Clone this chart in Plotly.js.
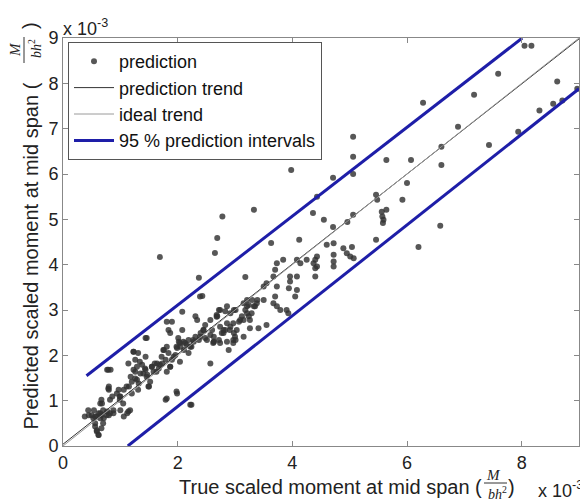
<!DOCTYPE html>
<html><head><meta charset="utf-8">
<script src="https://cdn.plot.ly/plotly-3.0.1.min.js"></script>
<style>html,body{margin:0;padding:0;background:#fff}#chart{width:580px;height:502px}</style>
</head><body><div id="chart"></div>
<script>
// values in units of 1e-3
const predX = [8.05,8.17,7.59,7.17,6.28,8.62,8.31,8.55,8.71,8.97,6.89,7.94,6.60,7.43,6.60,
5.06,5.06,5.64,6.07,4.71,5.06,6.00,5.46,5.48,5.92,4.36,4.55,4.71,4.96,5.06,5.64,5.57,5.58,6.58,6.20,
3.98,3.33,2.78,2.69,2.65,1.69,3.18,2.37,2.43,2.08,3.63,4.12,4.43,
5.04,5.01,4.72,4.72,4.40,4.43,5.56,5.59,5.46,4.60,4.72,4.89,4.95,5.07,4.72,4.43,4.37,4.40,4.40,4.25,4.14,4.08,3.84,3.73,3.70,3.67,3.73,3.55,3.50,3.96,4.08,3.96,4.08,3.94,
2.39,3.70,3.67,3.50,3.35,3.21,3.15,2.98,2.86,2.74,2.68,2.57,2.48,2.45,2.63,2.80,2.97,3.09,3.21,3.26,3.26,3.41,3.55,3.73,3.79,3.90,3.93,4.05,2.97,2.86,2.74,2.63,3.00,3.15,2.51,3.03,
0.38,0.44,0.50,0.53,0.59,0.62,0.65,0.67,0.70,0.65,0.67,0.56,0.59,0.62,0.67,0.70,0.76,0.82,0.88,0.82,0.79,0.97,0.99,1.05,1.14,1.17,1.14,0.79,1.23,1.31,1.34,1.26,1.29,1.31,1.20,1.11,0.99,
1.40,1.43,1.46,1.49,1.46,1.81,1.87,1.55,1.60,1.63,1.69,1.72,1.75,1.81,1.81,1.87,1.93,1.98,2.04,2.01,2.10,2.16,2.19,2.24,2.27,2.04,1.98,1.81,2.24,2.39,2.57,2.62,2.68,2.74,2.80,2.91,2.97,3.15,3.21,3.29,3.38,
0.45,0.54,0.56,0.65,0.71,0.77,0.80,0.88,0.56,0.59,0.62,0.68,1.00,1.06,1.12,0.80,0.77,0.86,0.94,1.00,1.06,1.15,1.18,1.20,1.26,1.32,1.23,1.29,1.35,1.38,1.44,1.47,1.52,1.50,1.55,1.58,1.64,1.67,1.73,1.79,1.76,1.84,1.87,1.90,1.96,1.99,2.05,2.02,2.11,2.13,2.19,2.22,2.28,2.31,2.37,2.40,2.45,2.48,2.57,2.60,2.63,2.72,2.77,2.83,2.86,2.92,2.98,3.01,2.89,3.07,3.12,3.18,3.24,3.33,3.39,3.30,3.24,3.01,2.92,2.83,2.72,2.69,2.31,2.34,1.84,1.90,2.08,1.44,1.23,1.26,1.44,1.79,1.99,2.22,0.80,0.83];
const predY = [8.83,8.83,8.21,7.75,7.57,8.04,7.40,7.55,7.62,7.88,7.04,6.93,6.60,6.64,6.20,
6.82,6.38,6.31,6.31,5.92,6.00,5.80,5.54,5.43,5.43,5.14,4.99,4.83,4.94,5.10,5.21,5.06,4.92,4.86,4.39,
6.09,5.21,5.06,4.59,4.26,4.17,3.73,3.71,3.31,2.96,4.48,4.55,5.50,
4.39,4.18,4.22,4.07,4.11,3.96,5.17,4.99,4.55,4.44,4.47,4.36,4.25,4.14,3.96,4.18,4.03,3.92,3.74,4.11,4.03,4.11,4.11,4.03,3.89,3.74,3.52,3.59,3.52,3.74,3.74,3.63,3.44,3.48,
3.30,3.30,3.15,3.22,3.08,3.22,3.15,3.00,3.08,3.00,2.89,2.78,2.67,2.56,2.41,2.56,2.71,2.78,2.93,2.78,2.60,2.60,2.67,3.08,3.00,3.00,2.93,3.30,2.27,2.30,2.27,2.30,2.41,2.41,2.34,2.56,
0.65,0.79,0.68,0.61,0.65,0.72,0.61,0.68,0.79,0.94,1.02,0.43,0.32,0.24,0.39,0.50,0.68,0.72,0.79,1.02,1.27,1.24,1.02,0.94,0.76,0.79,1.82,1.68,2.08,2.05,1.86,1.64,1.46,1.24,1.16,1.31,1.09,
1.60,1.71,1.53,1.31,2.38,2.74,2.49,1.75,1.82,1.64,1.79,1.97,2.12,2.19,1.64,1.75,1.97,2.19,2.27,2.38,2.30,2.23,2.05,2.19,2.34,1.86,1.20,1.05,0.91,2.41,1.82,2.27,2.85,2.63,2.49,2.56,2.34,2.78,3.08,2.93,3.15,
0.68,0.79,0.65,0.72,0.61,0.76,0.68,0.72,0.50,0.35,0.24,0.94,0.79,0.65,0.72,1.31,1.68,1.09,1.16,1.09,1.24,1.31,1.53,1.42,1.49,1.38,1.68,1.75,1.60,1.79,1.68,1.57,1.42,1.31,1.75,1.64,1.82,1.71,1.82,1.90,2.12,2.05,1.75,1.90,2.01,2.16,2.19,2.30,2.12,2.27,2.34,2.19,2.30,2.41,2.34,2.49,2.56,2.38,2.45,2.56,2.30,2.34,2.49,2.56,2.71,2.63,2.49,2.34,2.12,2.74,2.86,3.00,2.86,3.08,3.22,3.22,3.11,3.00,2.93,2.97,3.00,2.86,2.86,2.78,2.56,2.74,2.56,2.38,2.08,1.90,1.97,1.02,1.16,0.91,1.24,1.68];
const trendX = [0, 9];
const trendY = [0.04, 8.98];
const idealX = [0, 9];
const idealY = [0, 9];
const upperX = [0.41, 8.01];
const upperY = [1.55, 9.0];
const lowerX = [1.13, 9.0];
const lowerY = [0.0, 7.88];
const xTicks = [0, 2, 4, 6, 8];
const yTicks = [0, 1, 2, 3, 4, 5, 6, 7, 8, 9];

const F = 'Liberation Sans, Arial, sans-serif';
const SERIF = 'Liberation Serif, Times New Roman, serif';
const blue = '#1e1ea8';

const traces = [
  {x: predX, y: predY, type: 'scatter', mode: 'markers', name: 'prediction',
   marker: {symbol: 'circle', size: 6, color: 'rgba(50,50,50,0.82)'}},
  {x: trendX, y: trendY, type: 'scatter', mode: 'lines', name: 'prediction trend',
   line: {color: '#333333', width: 1}},
  {x: idealX, y: idealY, type: 'scatter', mode: 'lines', name: 'ideal trend',
   line: {color: '#9a9a9a', width: 1}},
  {x: upperX, y: upperY, type: 'scatter', mode: 'lines', name: '95 % prediction intervals',
   line: {color: blue, width: 3}, legendgroup: 'pi'},
  {x: lowerX, y: lowerY, type: 'scatter', mode: 'lines', name: '95 % prediction intervals',
   line: {color: blue, width: 3}, legendgroup: 'pi', showlegend: false}
];

const px = p => (p - 63) / 516;
const py = p => (446 - p) / 408;

const layout = {
  width: 580, height: 502,
  margin: {l: 63, r: 1, t: 38, b: 56},
  paper_bgcolor: '#fff', plot_bgcolor: '#fff',
  font: {family: F, size: 18, color: '#222'},
  showlegend: true,
  legend: {x: px(68), y: py(42), xanchor: 'left', yanchor: 'top',
    bgcolor: '#fff', bordercolor: '#555', borderwidth: 1,
    font: {family: F, size: 18, color: '#111'}, tracegroupgap: 0, itemwidth: 40},
  xaxis: {range: [0, 9], tickvals: xTicks, ticktext: xTicks.map(String),
    ticks: 'inside', ticklen: 5, tickcolor: '#888', showline: true, linecolor: '#888', linewidth: 1,
    mirror: 'ticks', showgrid: false, zeroline: false, tickfont: {size: 18, family: F, color: '#222'}},
  yaxis: {range: [0, 9], tickvals: yTicks, ticktext: yTicks.map(String),
    ticks: 'inside', ticklen: 5, tickcolor: '#888', showline: true, linecolor: '#888', linewidth: 1,
    mirror: 'ticks', showgrid: false, zeroline: false, tickfont: {size: 18, family: F, color: '#222'}},
  annotations: [
    {xref: 'paper', yref: 'paper', x: px(484), y: py(487), xanchor: 'right', yanchor: 'middle', showarrow: false,
     text: 'True scaled moment at mid span (', font: {family: F, size: 20, color: '#222'}},
    {xref: 'paper', yref: 'paper', x: px(493), y: py(475), xanchor: 'center', yanchor: 'middle', showarrow: false,
     text: '<i>M</i>', font: {family: SERIF, size: 15, color: '#222'}},
    {xref: 'paper', yref: 'paper', x: px(497), y: py(493), xanchor: 'center', yanchor: 'middle', showarrow: false,
     text: '<i>bh</i><sup>2</sup>', font: {family: SERIF, size: 14, color: '#222'}},
    {xref: 'paper', yref: 'paper', x: px(511), y: py(487), xanchor: 'center', yanchor: 'middle', showarrow: false,
     text: ')', font: {family: F, size: 20, color: '#222'}},
    {xref: 'paper', yref: 'paper', x: px(536), y: py(489), xanchor: 'left', yanchor: 'middle', showarrow: false,
     text: 'x 10<sup>-3</sup>', font: {family: F, size: 18, color: '#222'}},
    {xref: 'paper', yref: 'paper', x: px(61), y: py(27), xanchor: 'left', yanchor: 'middle', showarrow: false,
     text: 'x 10<sup>-3</sup>', font: {family: F, size: 18, color: '#222'}},
    {xref: 'paper', yref: 'paper', x: px(30), y: py(432), xanchor: 'center', yanchor: 'bottom', showarrow: false, textangle: -90,
     text: 'Predicted scaled moment at mid span (', font: {family: F, size: 20, color: '#222'}},
    {xref: 'paper', yref: 'paper', x: px(15), y: py(50), xanchor: 'center', yanchor: 'middle', showarrow: false, textangle: -90,
     text: '<i>M</i>', font: {family: SERIF, size: 15, color: '#222'}},
    {xref: 'paper', yref: 'paper', x: px(35), y: py(49), xanchor: 'center', yanchor: 'middle', showarrow: false, textangle: -90,
     text: '<i>bh</i><sup>2</sup>', font: {family: SERIF, size: 14, color: '#222'}},
    {xref: 'paper', yref: 'paper', x: px(30), y: py(26), xanchor: 'center', yanchor: 'middle', showarrow: false, textangle: -90,
     text: ')', font: {family: F, size: 20, color: '#222'}}
  ],
  shapes: [
    {type: 'line', xref: 'paper', yref: 'paper', x0: px(484), x1: px(507), y0: py(483), y1: py(483),
     line: {color: '#333', width: 1}},
    {type: 'line', xref: 'paper', yref: 'paper', x0: px(24), x1: px(24), y0: py(37), y1: py(63),
     line: {color: '#333', width: 1}}
  ]
};

Plotly.newPlot('chart', traces, layout, {displayModeBar: false, staticPlot: true});
</script>
</body></html>
